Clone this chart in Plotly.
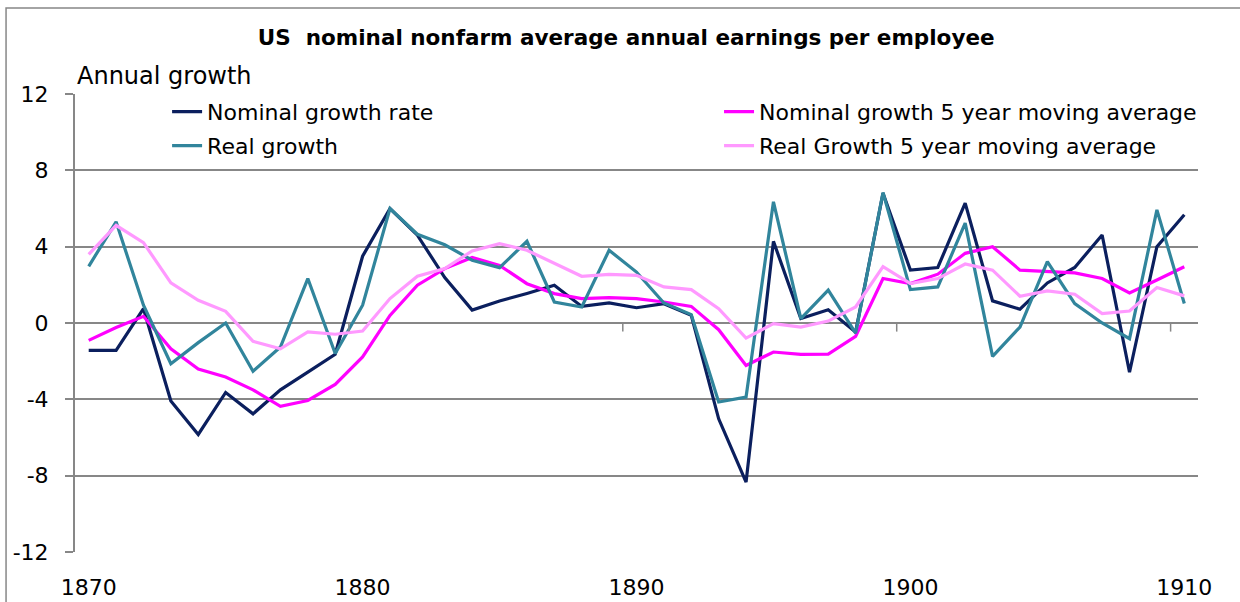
"""US nominal nonfarm average annual earnings per employee, 1870-1910."""

import plotly.graph_objects as go

_FONT = "'DejaVu Sans', sans-serif"
GRID = "#878787"

years = list(range(1870, 1911))

nominal_growth = [
    -1.43, -1.43, 0.75, -4.09, -5.84, -3.64, -4.76, -3.50, -2.57, -1.64,
    3.50, 6.00, 4.60, 2.38, 0.68, 1.15, 1.55, 1.98, 0.87, 1.05,
    0.80, 1.01, 0.40, -5.02, -8.34, 4.28, 0.23, 0.69, -0.47, 6.80,
    2.77, 2.91, 6.28, 1.16, 0.72, 2.10, 2.91, 4.61, -2.58, 4.00,
    5.67,
]
nominal_ma5 = [
    -0.91, -0.24, 0.35, -1.35, -2.41, -2.83, -3.50, -4.37, -4.06, -3.22,
    -1.78, 0.40, 1.98, 2.85, 3.43, 3.02, 2.06, 1.54, 1.28, 1.33,
    1.28, 1.10, 0.87, -0.35, -2.22, -1.52, -1.64, -1.63, -0.70, 2.33,
    2.07, 2.56, 3.65, 4.00, 2.77, 2.68, 2.63, 2.33, 1.58, 2.25,
    2.95,
]
real_growth = [
    2.97, 5.30, 0.93, -2.13, -1.03, 0.00, -2.53, -1.26, 2.33, -1.60,
    0.93, 6.00, 4.65, 4.10, 3.29, 2.90, 4.28, 1.10, 0.84, 3.81,
    2.67, 1.05, 0.44, -4.14, -3.88, 6.35, 0.23, 1.72, -0.53, 6.84,
    1.75, 1.89, 5.23, -1.75, -0.21, 3.21, 1.02, 0.00, -0.82, 5.93,
    1.02,
]
real_ma5 = [
    3.60, 5.12, 4.21, 2.10, 1.19, 0.61, -0.96, -1.35, -0.47, -0.59,
    -0.42, 1.28, 2.45, 2.85, 3.78, 4.16, 3.81, 3.11, 2.45, 2.55,
    2.50, 1.89, 1.75, 0.75, -0.79, -0.03, -0.21, 0.10, 0.84, 2.95,
    2.07, 2.33, 3.09, 2.77, 1.40, 1.68, 1.51, 0.49, 0.63, 1.86,
    1.42,
]

x_tick_years = [1870, 1880, 1890, 1900, 1910]
x_tick_labels = ["1870", "1880", "1890", "1900", "1910"]
y_tick_values = [-12, -8, -4, 0, 4, 8, 12]
y_tick_labels = ["-12", "-8", "-4", "0", "4", "8", "12"]
x_minor_ticks = [1879.5, 1889.5, 1899.5, 1909.5]

series = [
    ("Nominal growth rate", nominal_growth, "#0B1F5E", "legend"),
    ("Nominal growth 5 year moving average", nominal_ma5, "#FF00FF", "legend3"),
    ("Real growth", real_growth, "#31859C", "legend2"),
    ("Real Growth 5 year moving average", real_ma5, "#FF99FF", "legend4"),
]

fig = go.Figure()
for name, values, color, legend in series:
    fig.add_trace(go.Scatter(
        x=years, y=values, name=name, mode="lines", legend=legend,
        line=dict(color=color, width=3.2),
    ))

# tick marks between categories on the zero line (Excel category axis)
for xv in x_minor_ticks:
    fig.add_shape(type="line", xref="x", yref="y", x0=xv, x1=xv,
                  y0=0, y1=-0.45, line=dict(color=GRID, width=1.5))

# outer chart border
fig.add_shape(type="rect", xref="paper", yref="paper",
              x0=-0.0614, x1=1.2, y0=-0.3, y1=1.1878,
              line=dict(color=GRID, width=1.5), layer="below")

fig.add_annotation(text="Annual growth", xref="paper", yref="paper",
                   x=0.0, y=1.040, xanchor="left", yanchor="middle",
                   showarrow=False, font=dict(size=24, color="black"))


def _legend(x, y):
    return dict(x=x, y=y, xanchor="left", yanchor="middle",
                bgcolor="rgba(0,0,0,0)", borderwidth=0,
                font=dict(size=22, color="black", family=_FONT))


fig.update_layout(
    width=1240, height=602,
    margin=dict(l=75, r=42, t=94, b=50),
    paper_bgcolor="white", plot_bgcolor="white",
    font=dict(family=_FONT, color="black", size=22),
    title=dict(text="<b>US  nominal nonfarm average annual earnings per employee</b>",
               x=0.505, xanchor="center", y=0.937, yanchor="middle",
               font=dict(size=21.5, color="black")),
    showlegend=True,
    legend=_legend(0.082, 0.961),
    legend2=_legend(0.082, 0.887),
    legend3=_legend(0.5735, 0.961),
    legend4=_legend(0.5735, 0.887),
    xaxis=dict(range=[1869.5, 1910.5], tickvals=x_tick_years,
               ticktext=x_tick_labels, showgrid=False, zeroline=False,
               showline=False, ticks="", ticklabelstandoff=20,
               automargin=False, tickfont=dict(size=22)),
    yaxis=dict(range=[-12, 12], tickvals=y_tick_values, ticktext=y_tick_labels,
               showgrid=True, gridcolor=GRID, gridwidth=2, zeroline=False,
               showline=True, linecolor=GRID, linewidth=2,
               ticks="outside", ticklen=8, tickcolor=GRID, tickwidth=2,
               ticklabelstandoff=12, automargin=False, tickfont=dict(size=22)),
)

fig.write_html("out.html", config={"displayModeBar": False},
               post_script="document.body.style.margin='0px';")
